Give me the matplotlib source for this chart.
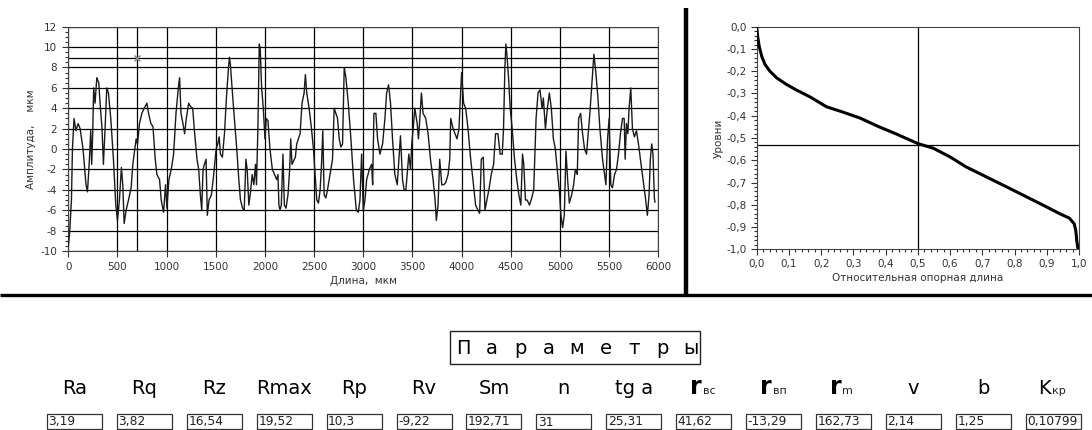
import matplotlib
matplotlib.use('Agg')
import matplotlib.pyplot as plt
from matplotlib.ticker import MultipleLocator, FuncFormatter
from matplotlib.patches import Rectangle

plt.rcParams['axes.unicode_minus'] = False

W, H = 1092, 430

# profile (length, um ; amplitude, um)
prof_x = [0, 15, 32, 42, 58, 78, 100, 120, 150, 180, 195, 215, 228, 238, 248, 258, 272, 290, 310, 323,
          343, 357, 374, 391, 408, 432, 459, 483, 500, 520, 540, 554, 568, 588, 612, 639, 656, 670, 690, 704,
          724, 748, 772, 799, 816, 840, 861, 884, 901, 928, 945, 969, 989, 1003, 1023, 1047, 1071, 1095, 1119, 1132,
          1146, 1166, 1183, 1200, 1224, 1241, 1265, 1285, 1309, 1326, 1343, 1357, 1370, 1384, 1401, 1414, 1431, 1455, 1479, 1503,
          1520, 1534, 1547, 1567, 1588, 1608, 1629, 1639, 1649, 1673, 1697, 1717, 1734, 1751, 1772, 1789, 1806, 1819, 1836, 1853,
          1870, 1887, 1904, 1914, 1928, 1942, 1952, 1966, 1983, 2000, 2013, 2030, 2051, 2075, 2098, 2119, 2132, 2142, 2153, 2166,
          2183, 2197, 2214, 2234, 2251, 2262, 2275, 2289, 2309, 2323, 2340, 2357, 2377, 2398, 2411, 2425, 2449, 2473, 2493, 2510,
          2527, 2544, 2561, 2575, 2588, 2602, 2619, 2636, 2653, 2670, 2687, 2704, 2721, 2738, 2755, 2772, 2789, 2806, 2823, 2847,
          2874, 2901, 2929, 2949, 2966, 2983, 3000, 3017, 3034, 3061, 3085, 3095, 3108, 3128, 3145, 3169, 3196, 3220, 3237, 3257,
          3277, 3297, 3321, 3345, 3362, 3378, 3399, 3415, 3433, 3450, 3463, 3480, 3493, 3507, 3524, 3548, 3561, 3575, 3591, 3608,
          3635, 3659, 3683, 3710, 3730, 3743, 3760, 3777, 3798, 3818, 3838, 3862, 3879, 3889, 3913, 3933, 3953, 3973, 3987, 4000,
          4020, 4041, 4065, 4092, 4115, 4142, 4166, 4183, 4200, 4220, 4237, 4257, 4277, 4301, 4325, 4345, 4369, 4392, 4413, 4426,
          4440, 4450, 4463, 4477, 4494, 4514, 4538, 4561, 4582, 4602, 4619, 4632, 4649, 4666, 4690, 4713, 4733, 4757, 4777, 4797,
          4818, 4831, 4852, 4872, 4892, 4912, 4933, 4953, 4977, 4993, 5010, 5027, 5044, 5061, 5078, 5095, 5119, 5139, 5156, 5176,
          5190, 5210, 5230, 5250, 5270, 5291, 5304, 5325, 5345, 5365, 5386, 5406, 5433, 5453, 5467, 5484, 5500, 5517, 5534, 5555,
          5575, 5595, 5615, 5636, 5653, 5663, 5676, 5690, 5703, 5720, 5737, 5757, 5778, 5798, 5818, 5838, 5859, 5872, 5889, 5906,
          5919, 5933, 5946, 5960, 5966]
prof_y = [-9.5, -8, -5, 0, 3, 1.8, 2.5, 2.0, 0, -3.5, -4.2, -1, 1.8, -1.5, 1.5, 6, 4.5, 7, 6.5, 4.5,
          2, -1.5, 2, 6, 5.5, 3, -1, -5.5, -7, -5, -1.8, -3.5, -7.3, -6, -5, -3.8, -1.5, -0.5, 1, 0.5,
          2.5, 3.5, 4, 4.5, 3.5, 2.5, 2.2, -1, -2.5, -3, -5, -6.2, -3.5, -5.8, -3, -2, -0.5, 3.5, 6, 7,
          3.5, 2.5, 1.5, 3, 4.5, 4.2, 4, 1.5, -1, -2, -4.5, -6, -2, -1.5, -1, -6.5, -5, -4.5, -2.5, 0,
          0.5, 1.2, -0.5, -0.8, 1.5, 5, 8, 9, 8.2, 5, 2, -0.5, -3, -5, -5.8, -6, -1, -2, -5.5, -4.2,
          -2.5, -3.5, -1.5, -3.5, 2, 10.3, 9.8, 6, 4, 1, 3, 2.8, 0, -2, -2.5, -3, -2.5, -5.5, -6, -5.5,
          -0.5, -5.5, -5.8, -4.5, -2, 1, -1.5, -1.2, -0.8, 0.5, 1, 1.5, 4.5, 5.5, 7.3, 5.5, 4, 2, 0, -2.5,
          -5, -5.3, -4, -1.5, 1.8, -4.5, -4.8, -4, -3, -2, -1, 4, 3.5, 3, 1, 0.2, 0.5, 8, 7, 4.5,
          1, -3, -6, -6.2, -5, -0.5, -6, -5, -3, -2, -1.5, -3.5, 3.5, 3.5, 1, -0.5, 0.5, 3, 5.5, 6.3,
          4.5, 1, -2.5, -3.5, -1, 1.3, -3, -4, -4, -2, -0.5, -2, 0.5, 2, 4, 2.5, 1, 3, 5.5, 3.5,
          3, 1.5, -1, -3, -5, -7, -5.5, -1, -3.5, -3.5, -3.3, -2.5, -1, 3, 2, 1.5, 1, 2, 5, 7.5,
          4.5, 4, 2, -1, -3, -5.5, -6, -6.3, -1, -0.8, -6, -5, -4, -2.5, -1.5, 1.5, 1.5, -0.5, -0.5, 2,
          8, 10.3, 9, 7, 4, 2, -1, -3, -4.5, -5.5, -0.5, -1.5, -5, -5, -5.5, -4.8, -4, 3, 5.5, 5.8,
          4, 5, 2, 4, 5.5, 4, 1, 0, -2.5, -4, -6.5, -7.7, -6.5, -0.2, -3, -5.3, -4.5, -3.5, -2, -2.5,
          3, 3.5, 1.5, 0, -0.5, 2, 3.5, 6.5, 9.3, 7.5, 5, 2, -1, -2.5, -3.5, 1, 3, -3.5, -3.8, -2.5,
          -2, -0.5, 1.5, 3, 3, -1, 2.5, 1.5, 4, 6, 2, 1.2, 1.8, 0.5, -1, -2.5, -4, -5, -6.5, -4.5,
          -1, 0.5, -0.5, -4.8, -5.2]
cursor_x, cursor_y = 700, 8.95

# bearing (Abbott) curve
tp_x = [0.0, 0.003, 0.008, 0.016, 0.026, 0.041, 0.062, 0.093, 0.124, 0.165, 0.217, 0.26, 0.32, 0.38, 0.43,
        0.50, 0.548, 0.60, 0.65, 0.713, 0.776, 0.838, 0.90, 0.94, 0.97, 0.985, 0.99, 0.993, 0.997]
tp_y = [0.0, -0.045, -0.09, -0.135, -0.17, -0.20, -0.23, -0.26, -0.285, -0.315, -0.36, -0.38, -0.41, -0.45, -0.48,
        -0.525, -0.546, -0.585, -0.63, -0.675, -0.72, -0.765, -0.81, -0.84, -0.86, -0.885, -0.915, -0.96, -1.0]
tp_cross_x, tp_cross_y = 0.5, -0.53

param_names = ['Ra', 'Rq', 'Rz', 'Rmax', 'Rp', 'Rv', 'Sm', 'n', 'tg a', 'r', 'r', 'r', 'v', 'b', 'K']
param_subs = ['', '', '', '', '', '', '', '', '', 'вс', 'вп', 'm', '', '', 'кр']
param_vals = ['3,19', '3,82', '16,54', '19,52', '10,3', '-9,22', '192,71', '31', '25,31', '41,62',
              '-13,29', '162,73', '2,14', '1,25', '0,10799']

fig = plt.figure(figsize=(W / 100, H / 100), dpi=100)

# overlay in pixel coords for panel decorations
ov = fig.add_axes([0, 0, 1, 1])
ov.set_xlim(0, W)
ov.set_ylim(H, 0)
ov.axis('off')
ov.plot([686, 686], [8, 295], color='black', lw=3.2, solid_capstyle='butt')
ov.plot([0, W], [295, 295], color='black', lw=2.4, solid_capstyle='butt')

tick_col = '#333333'

# ---- profile ----
ax = fig.add_axes([68.3 / W, 1 - 251 / H, 590 / W, 224.3 / H])
ax.plot(prof_x, prof_y, color='#1a1a1a', lw=1.0, zorder=3)
ax.set_xlim(0, 6000)
ax.set_ylim(-10, 12)
ax.xaxis.set_major_locator(MultipleLocator(500))
ax.yaxis.set_major_locator(MultipleLocator(2))
ax.yaxis.set_minor_locator(MultipleLocator(0.5))
ax.grid(True, which='major', color='black', lw=0.9)
ax.axvline(cursor_x, color='black', lw=0.9)
ax.axhline(cursor_y, color='black', lw=0.9)
ax.plot([cursor_x], [cursor_y], marker='x', ms=5, mew=1, color='#888888', zorder=4)
ax.tick_params(which='major', length=4, width=0.8, labelsize=7.5, colors=tick_col, pad=4)
ax.tick_params(which='minor', length=2, width=0.8, colors=tick_col)
for s in ax.spines.values():
    s.set_color('#444444')
ax.set_xlabel('Длина,  мкм', fontsize=7.5, color=tick_col, labelpad=3)
ax.set_ylabel('Амплитуда,    мкм', fontsize=7.5, color=tick_col, labelpad=3)

# ---- bearing curve ----
comma = FuncFormatter(lambda v, p: ('%.1f' % (0.0 if abs(v) < 1e-9 else v)).replace('.', ','))
bx = fig.add_axes([756.7 / W, 1 - 249.3 / H, 322.3 / W, 222.6 / H])
bx.plot(tp_x, tp_y, color='black', lw=2.2, zorder=3)
bx.axvline(tp_cross_x, color='black', lw=0.9)
bx.axhline(tp_cross_y, color='black', lw=0.9)
bx.set_xlim(0, 1)
bx.set_ylim(-1, 0)
bx.xaxis.set_major_locator(MultipleLocator(0.1))
bx.xaxis.set_minor_locator(MultipleLocator(0.02))
bx.yaxis.set_major_locator(MultipleLocator(0.1))
bx.yaxis.set_minor_locator(MultipleLocator(0.02))
bx.xaxis.set_major_formatter(comma)
bx.yaxis.set_major_formatter(comma)
bx.tick_params(which='major', length=4, width=0.8, labelsize=7.5, colors=tick_col, pad=3)
bx.tick_params(which='minor', length=2, width=0.8, colors=tick_col)
for s in bx.spines.values():
    s.set_color('#444444')
bx.set_xlabel('Относительная опорная длина', fontsize=7.5, color=tick_col, labelpad=3)
bx.set_ylabel('Уровни', fontsize=7.5, color=tick_col, labelpad=2)

# ---- parameters block ----
ov.add_patch(Rectangle((450, 331), 250, 33, fill=False, ec='#222222', lw=1.0))
for i, ch in enumerate('Параметры'):
    ov.text(463 + i * 28.5, 349, ch, fontsize=14, ha='center', va='center', color='black')

for i, (nm, sb, val) in enumerate(zip(param_names, param_subs, param_vals)):
    x0 = 47 + i * 69.9
    cx = x0 + 27.5
    if sb:
        big = nm == 'r'
        ov.text(cx - 2, 394, nm, fontsize=17 if big else 14, fontweight='bold' if big else 'normal',
                ha='right', va='baseline', color='black')
        ov.text(cx - 1, 394, sb, fontsize=8, ha='left', va='baseline', color='#222222')
    else:
        ov.text(cx, 394, nm, fontsize=14, ha='center', va='baseline', color='black')
    box = Rectangle((x0, 414), 55, 15, fill=False, ec='#333333', lw=0.9)
    ov.add_patch(box)
    t = ov.text(x0 + 1.5, 422, val, fontsize=8.8, ha='left', va='center', color='#222222')
    t.set_clip_path(box)

fig.savefig('out.png', dpi=100)
